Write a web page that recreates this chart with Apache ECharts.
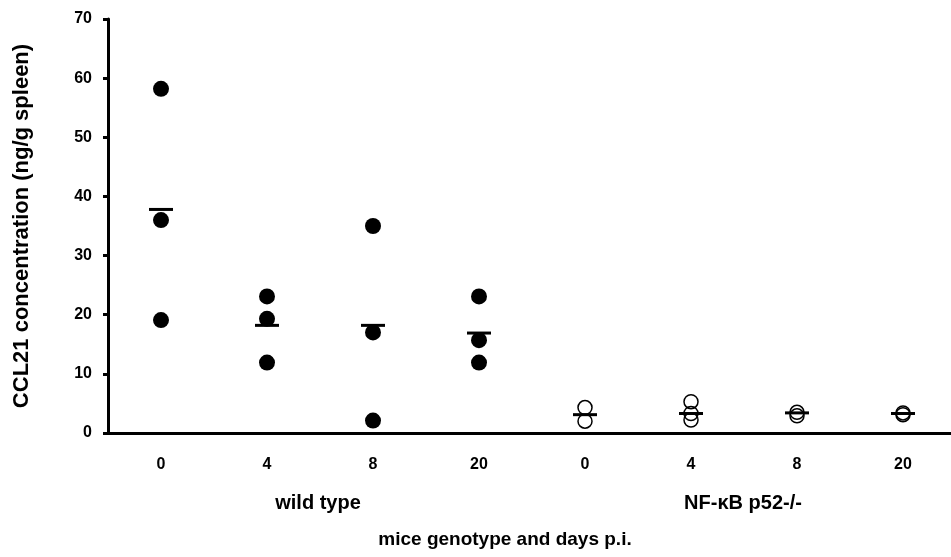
<!DOCTYPE html>
<html>
<head>
<meta charset="utf-8">
<script src="https://cdn.jsdelivr.net/npm/echarts@6/dist/echarts.min.js"></script>
<style>
  html, body { margin: 0; padding: 0; background: #fff; }
  #chart { width: 951px; height: 557px; }
</style>
</head>
<body>
<div id="chart"></div>
<script>
// x categories: days p.i., first four wild type, last four NF-kB p52-/-
const days = ['0', '4', '8', '20', '0', '4', '8', '20'];
const groupNames = ['wild type', 'NF-\u03BAB p52-/-'];

// individual mice, per day
const wildType = [
  [58.2, 36.0, 19.1],
  [23.1, 19.3, 11.9],
  [35.0, 17.0, 2.1],
  [23.1, 15.7, 11.9]
];
const knockout = [
  [4.3, 2.0],
  [5.3, 3.3, 2.2],
  [3.5, 2.9],
  [3.4, 3.1]
];
// group means (horizontal bars)
const means = [37.8, 18.2, 18.2, 16.9, 3.1, 3.3, 3.4, 3.3];

const font = 'Liberation Sans, Arial, sans-serif';

function toPoints(groups, offset) {
  const pts = [];
  groups.forEach((vals, i) => {
    vals.forEach(v => pts.push([i + offset, v]));
  });
  return pts;
}

const chart = echarts.init(document.getElementById('chart'));
chart.setOption({
  backgroundColor: '#fff',
  animation: false,
  grid: { left: 108, right: -5, top: 19, bottom: 124, containLabel: false, outerBoundsMode: 'none' },
  xAxis: {
    type: 'category',
    data: days,
    boundaryGap: true,
    axisLine: { lineStyle: { color: '#000', width: 3 } },
    axisTick: { show: false },
    axisLabel: { margin: 24, fontFamily: font, fontWeight: 'bold', fontSize: 16, color: '#000' },
    splitLine: { show: false }
  },
  yAxis: {
    type: 'value',
    min: 0,
    max: 70,
    interval: 10,
    name: 'CCL21 concentration (ng/g spleen)',
    nameLocation: 'middle',
    nameRotate: 90,
    nameGap: 75,
    nameTextStyle: { fontFamily: font, fontWeight: 'bold', fontSize: 22, color: '#000' },
    axisLine: { show: true, lineStyle: { color: '#000', width: 3 } },
    axisTick: { show: true, inside: false, length: 5, lineStyle: { color: '#000', width: 3 } },
    axisLabel: { margin: 16, fontFamily: font, fontWeight: 'bold', fontSize: 16, color: '#000' },
    splitLine: { show: false }
  },
  graphic: [
    {
      type: 'text', x: 318, y: 503,
      style: { text: groupNames[0], font: 'bold 20px ' + font, fill: '#000', align: 'center', verticalAlign: 'middle' }
    },
    {
      type: 'text', x: 743, y: 503,
      style: { text: groupNames[1], font: 'bold 20px ' + font, fill: '#000', align: 'center', verticalAlign: 'middle' }
    },
    {
      type: 'text', x: 505, y: 540,
      style: { text: 'mice genotype and days p.i.', font: 'bold 19px ' + font, fill: '#000', align: 'center', verticalAlign: 'middle' }
    }
  ],
  series: [
    {
      name: 'wild type',
      type: 'scatter',
      symbol: 'circle',
      symbolSize: 16,
      itemStyle: { color: '#000', opacity: 1 },
      data: toPoints(wildType, 0),
      z: 2
    },
    {
      name: 'NF-kB p52-/-',
      type: 'scatter',
      symbol: 'circle',
      symbolSize: 14,
      itemStyle: { color: 'rgba(0,0,0,0)', borderColor: '#000', borderWidth: 1.5, opacity: 1 },
      data: toPoints(knockout, 4),
      z: 2
    },
    {
      name: 'mean',
      type: 'scatter',
      symbol: 'rect',
      symbolSize: [24, 3],
      itemStyle: { color: '#000', opacity: 1 },
      data: means.map((m, i) => [i, m]),
      z: 3
    }
  ]
});
</script>
</body>
</html>
